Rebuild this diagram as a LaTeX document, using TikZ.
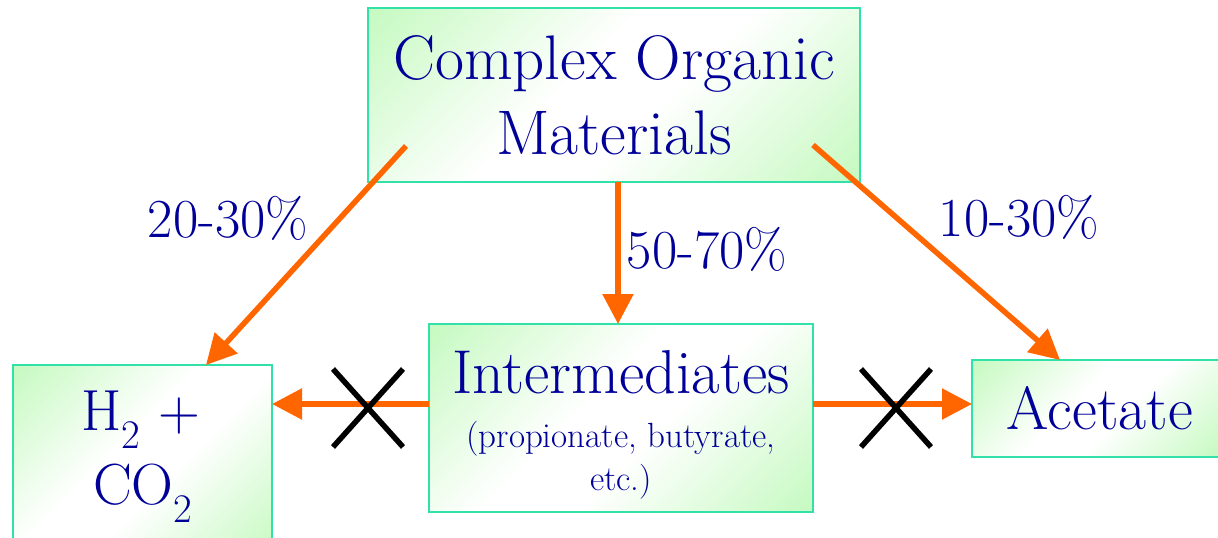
\documentclass[tikz,border=0pt]{standalone}
\usepackage{fontspec}
\usetikzlibrary{arrows.meta,calc}
\definecolor{navy}{RGB}{0,0,153}
\definecolor{orng}{RGB}{255,102,0}
\definecolor{bord}{RGB}{50,225,170}
\definecolor{lgr}{RGB}{200,250,195}
\pgfdeclarehorizontalshading{boxsh}{100bp}{color(0bp)=(lgr); color(16bp)=(lgr); color(44bp)=(white); color(56bp)=(white); color(84bp)=(lgr); color(100bp)=(lgr)}
\newcommand\myfs[2]{\fontsize{#1}{#2}\selectfont}
\begin{document}
\begin{tikzpicture}[x=1pt,y=-1pt,
  box/.style={draw=bord,line width=2pt,shading=boxsh,shading angle=-45,inner sep=0pt,outer sep=0pt},
  txt/.style={text=navy,align=center,inner sep=0pt},
  arr/.style={draw=orng,line width=5.5pt,-{Triangle[length=30pt,width=30pt]}},
  xm/.style={draw=black,line width=5.5pt}]
\useasboundingbox (0,0) rectangle (1218,538);
% boxes
\node[box,txt,minimum width=492pt,minimum height=174pt,font=\myfs{63}{75}] (top) at (614,95) {Complex Organic\\Materials};
\node[box,minimum width=259pt,minimum height=195pt] (h2box) at (142.5,462.5) {};
\node[box,minimum width=384pt,minimum height=188pt] (inter) at (621,418) {};
\node[box,txt,minimum width=250pt,minimum height=97pt,font=\myfs{61}{70}] (acet) at (1097,408.5) {\hspace*{6pt}Acetate};
% box texts
\node[txt,anchor=base,font=\myfs{58}{66}] (h2a) at (141,430) {H\textsubscript{2} +};
\node[txt,anchor=base,font=\myfs{58}{66}] (h2b) at (143,504) {CO\textsubscript{2}};
\node[txt,anchor=base,font=\myfs{62}{70}] (intertxt) at (621,393) {Intermediates};
\node[txt,font=\myfs{35}{43}] (intersub) at (621,460) {(propionate, butyrate,\\etc.)};
% labels
\node[txt,anchor=base,font=\myfs{55}{60}] (l1) at (228,237) {20-30\%};
\node[txt,anchor=base,font=\myfs{55}{60}] (l2) at (707,268) {50-70\%};
\node[txt,anchor=base,font=\myfs{55}{60}] (l3) at (1019,236) {10-30\%};
% arrow coordinates
\coordinate (s1) at (406,146);
\coordinate (e1) at ($(h2box.north west)+(193,0)$);
\coordinate (s3) at (813,145);
\coordinate (e3) at ($(acet.north west)+(88,0)$);
\coordinate (cv) at (618,0);
\coordinate (hl) at (0,404);
% arrows
\draw[arr] (s1) -- (e1);
\draw[arr] (s3) -- (e3);
\draw[arr] (top.south -| cv) -- (inter.north -| cv);
\draw[arr] (inter.west |- hl) -- (h2box.east |- hl);
\draw[arr] (inter.east |- hl) -- (acet.west |- hl);
% crosses
\coordinate (x1) at (368,408);
\coordinate (x2) at (896,408);
\draw[xm] ($(x1)+(-35,-39)$) -- ($(x1)+(35,39)$);
\draw[xm] ($(x1)+(35,-39)$) -- ($(x1)+(-35,39)$);
\draw[xm] ($(x2)+(-35,-39)$) -- ($(x2)+(35,39)$);
\draw[xm] ($(x2)+(35,-39)$) -- ($(x2)+(-35,39)$);
\end{tikzpicture}
\end{document}
